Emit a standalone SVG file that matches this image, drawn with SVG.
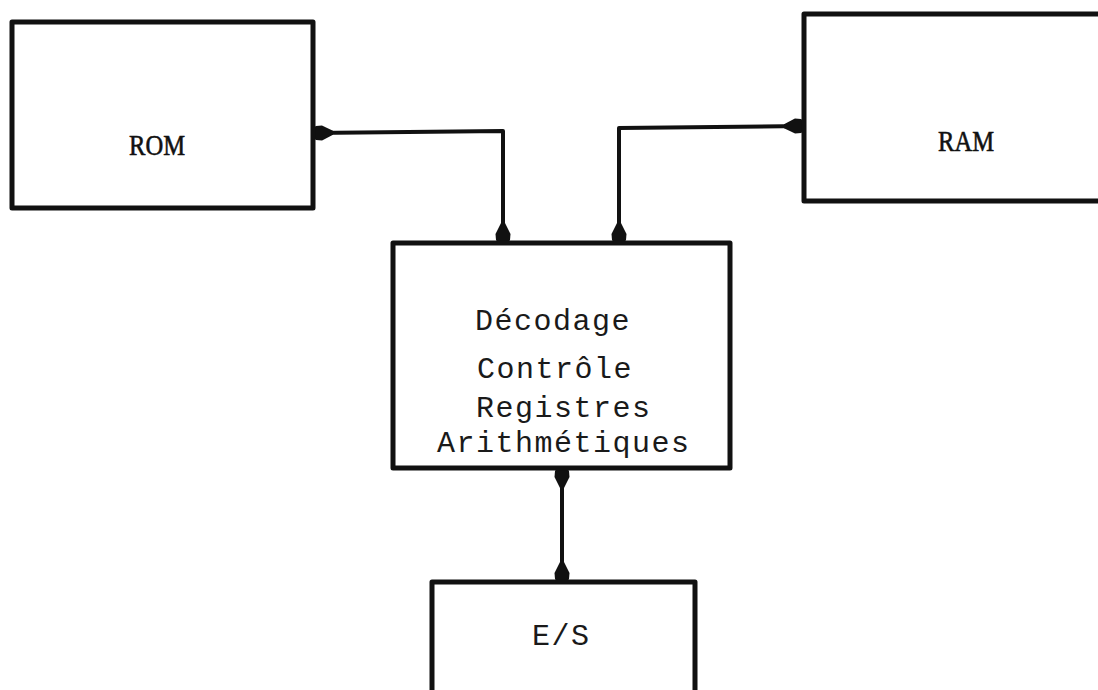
<svg xmlns="http://www.w3.org/2000/svg" width="1098" height="690" viewBox="0 0 1098 690">
<style>
.box{fill:none;stroke:#111;stroke-width:5;stroke-linejoin:round}
.conn{fill:none;stroke:#111;stroke-width:4;stroke-linejoin:round}
.lbl{font-family:"Liberation Mono","Courier New",monospace;font-size:30px;fill:#1a1a1a;letter-spacing:1.5px}
.big{font-family:"Liberation Serif","Times New Roman",serif;font-size:29px;fill:#111;stroke:#111;stroke-width:0.6}
</style>
<defs>
<marker id="ah" markerUnits="userSpaceOnUse" viewBox="0 -10 22 20" markerWidth="22" markerHeight="20" refX="20" refY="0" orient="auto-start-reverse">
<path d="M0,-2 L11,-7.5 L17,-7 L20,-5 L20,5 L17,7 L11,7.5 L0,2 Z" fill="#111"/>
</marker>
</defs>
<rect width="1098" height="690" fill="#fff"/>
<g id="connectors">
<path class="conn" d="M313,133 L503,131 L503,243" marker-start="url(#ah)" marker-end="url(#ah)"/>
<path class="conn" d="M619,243 L619,128 L804,126" marker-start="url(#ah)" marker-end="url(#ah)"/>
<path class="conn" d="M562,582 L562,468" marker-start="url(#ah)" marker-end="url(#ah)"/>
</g>
<g id="rom">
<rect class="box" x="12" y="22" width="301" height="186"/>
<text class="big" x="129" y="155" textLength="56" lengthAdjust="spacingAndGlyphs">ROM</text>
</g>
<g id="ram">
<rect class="box" x="804" y="14" width="310" height="187"/>
<text class="big" x="938" y="151" textLength="56" lengthAdjust="spacingAndGlyphs">RAM</text>
</g>
<g id="cpu">
<rect class="box" x="393" y="243" width="337" height="225"/>
<text class="lbl" x="475" y="330">Décodage</text>
<text class="lbl" x="477" y="378">Contrôle</text>
<text class="lbl" x="476" y="417">Registres</text>
<text class="lbl" x="437" y="452">Arithmétiques</text>
</g>
<g id="es">
<rect class="box" x="432" y="582" width="263" height="120"/>
<text class="lbl" x="532" y="645">E/S</text>
</g>
</svg>
